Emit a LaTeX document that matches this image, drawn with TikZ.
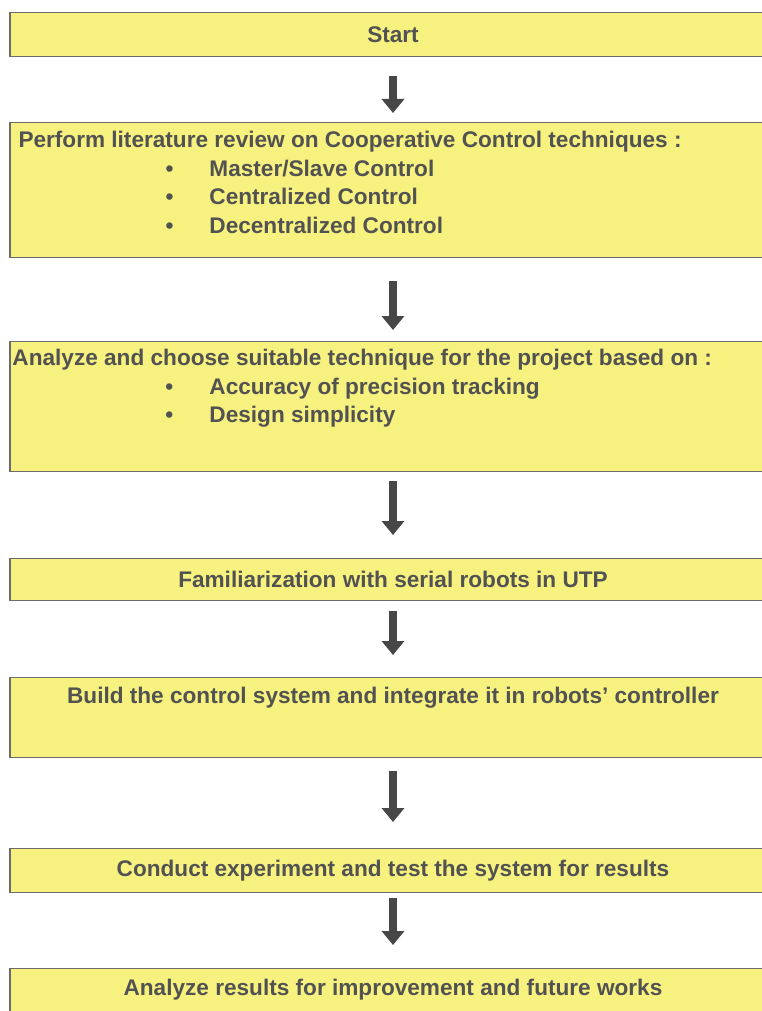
\documentclass[tikz,border=0pt]{standalone}
\usepackage{fontspec}
\usepackage{xcolor}
\usetikzlibrary{arrows.meta}
\setmainfont{Liberation Sans}
\definecolor{boxfill}{HTML}{F7F27F}
\colorlet{boxline}{black!58}
\colorlet{boxtext}{black!68}
\colorlet{arrowgray}{black!72}

\tikzset{
	stepbox/.style={draw=boxline, line width=1.4pt, fill=boxfill, minimum width=766pt, anchor=north},
	steptext/.style={text=boxtext, font=\fontsize{22.6}{28.7}\selectfont\bfseries, inner sep=0pt},
	flow/.style={draw=arrowgray, line width=8.5pt, -{Triangle[width=22pt,length=14pt]}}
}
\newcommand{\itm}[2][147pt]{\hspace*{#1}\makebox[44pt][l]{\textbullet}#2}

\begin{document}
\begin{tikzpicture}[x=1pt,y=-1pt]
		\useasboundingbox[fill=white] (0,0) rectangle (762,1011);
		
		% Draw the boxes
		\node[stepbox, minimum height=44pt] (start) at (393,12) {};
		\node[stepbox, minimum height=135pt] (review) at (393,122) {};
		\node[stepbox, minimum height=130pt] (choose) at (393,341) {};
		\node[stepbox, minimum height=42pt] (familiar) at (393,558) {};
		\node[stepbox, minimum height=80pt] (build) at (393,677) {};
		\node[stepbox, minimum height=44pt] (conduct) at (393,848) {};
		\node[stepbox, minimum height=60pt] (results) at (393,968) {};
		
		% Write the steps
		\node[steptext] at (start) {Start};
		\node[steptext, anchor=north west, align=left] at ([shift={(9,9)}]review.north west)
		{Perform literature review on Cooperative Control techniques :\\
			\itm{Master/Slave Control}\\
			\itm{Centralized Control}\\
			\itm{Decentralized Control}};
		\node[steptext, anchor=north west, align=left] at ([shift={(3,8)}]choose.north west)
		{Analyze and choose suitable technique for the project based on :\\
			\itm[153pt]{Accuracy of precision tracking}\\
			\itm[153pt]{Design simplicity}};
		\node[steptext] at (familiar) {Familiarization with serial robots in UTP};
		\node[steptext] at ([shift={(0,21)}]build.north) {Build the control system and integrate it in robots' controller};
		\node[steptext] at (conduct) {Conduct experiment and test the system for results};
		\node[steptext] at ([shift={(0,22)}]results.north) {Analyze results for improvement and future works};
		
		% Connect the steps
		\draw[flow, shorten <=19pt, shorten >=9pt] (start) -- (review);
		\draw[flow, shorten <=23pt, shorten >=11pt] (review) -- (choose);
		\draw[flow, shorten <=9pt, shorten >=23pt] (choose) -- (familiar);
		\draw[flow, shorten <=10pt, shorten >=22pt] (familiar) -- (build);
		\draw[flow, shorten <=13pt, shorten >=26pt] (build) -- (conduct);
		\draw[flow, shorten <=5pt, shorten >=23pt] (conduct) -- (results);
	\end{tikzpicture}
\end{document}
